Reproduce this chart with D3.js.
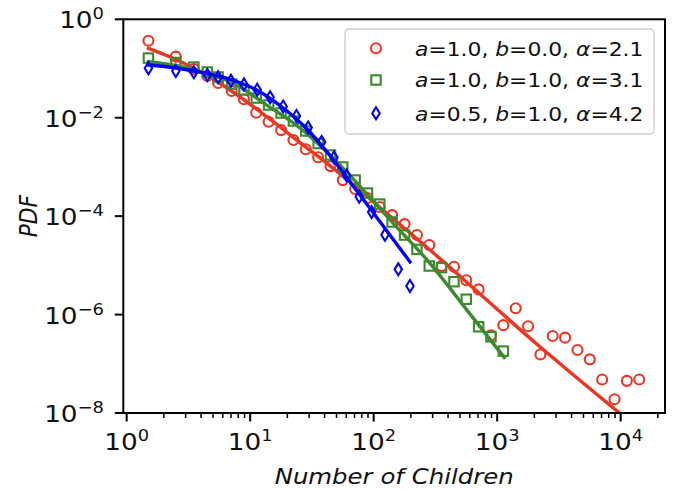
<!DOCTYPE html>
<html><head><meta charset="utf-8">
<script src="https://cdn.jsdelivr.net/npm/d3@7"></script>
<style>body{margin:0;background:#fff}svg{display:block}</style>
</head><body><svg id="c" width="674" height="491"></svg>
<script>
// ---- data ----
const redX = [1.5,2.5,3.5,4.5,5.5,7.08,8.91,11.2,14.1,17.8,22.4,28.2,35.5,44.7,56.2,70.8,89.1,112,141,178,224,282,355,447,562,708,891,1122,1413,1778,2239,2818,3548,4467,5623,7079,8913,11220,14125];
const redY = [0.367,0.174,0.0977,0.0704,0.0507,0.0349,0.0237,0.01264,0.0083,0.0056,0.00352,0.00228,0.00157,0.00104,5.4e-4,3.56e-4,2.33e-4,1.53e-4,1.05e-4,6.9e-5,4.13e-5,2.59e-5,9.7e-6,9.4e-6,5.0e-6,3.25e-6,3.8e-7,6.1e-7,1.34e-6,5.8e-7,1.55e-7,3.66e-7,3.4e-7,1.9e-7,1.23e-7,4.8e-8,1.9e-8,4.5e-8,4.8e-8];
const greenX = [1.5,2.5,3.5,4.5,5.5,7.08,8.91,11.2,14.1,17.8,22.4,28.2,35.5,44.7,56.2,70.8,89.1,112,141,178,224,282,355,447,562,708,891,1122];
const greenY = [0.163,0.1324,0.107,0.0849,0.0672,0.0484,0.0366,0.0251,0.0181,0.01246,0.00857,0.00537,0.00299,0.001746,9.96e-4,5.42e-4,2.95e-4,1.76e-4,7.6e-5,4.13e-5,2.11e-5,9.7e-6,9.0e-6,4.65e-6,2.05e-6,5.65e-7,3.54e-7,1.81e-7];
const blueX = [1.5,2.5,3.5,4.5,5.5,6.99,8.91,11.4,14.5,18.5,23.7,29.5,37.9,47.7,60.4,76.4,96.3,123.4,158.2,196.7];
const blueY = [0.1009,0.089,0.0837,0.0738,0.0662,0.0565,0.0473,0.0371,0.0261,0.0169,0.01083,0.00633,0.00321,0.00155,6.68e-4,2.48e-4,1.21e-4,4.19e-5,8.3e-6,3.8e-6];
// fitted curves
const redFitX = [1.5,2.51,3.92,7.26,13.6,25.3,47.1,82.4,153.6,285.8,2221,9870,14125];
const redFitY = [0.2574,0.1524,0.0869,0.0333,0.01048,0.00313,9.37e-4,2.91e-4,7.69e-5,2.05e-5,2.22e-7,9.8e-9,4.7e-9];
const greenFitX = [1.5,2.51,3.92,7.26,13.6,25.3,47.1,82.4,144.1,285.8,569.5,1139];
const greenFitY = [0.1374,0.115,0.0861,0.0507,0.0181,0.00618,0.001496,3.39e-4,7.14e-5,1.10e-5,1.234e-6,1.35e-7];
const blueFitX = [1.5,2.51,3.92,6.99,11.27,17.86,28.3,44.9,77.5,196.7];
const blueFitY = [0.1178,0.1024,0.0849,0.0598,0.0366,0.01689,0.00618,0.001627,2.68e-4,1.18e-5];
const xMajor = [1,10,100,1000,10000];
const xMajorExp = ["0","1","2","3","4"];
const yMajor = [1,1e-2,1e-4,1e-6,1e-8];
const yMajorExp = ["0","\u22122","\u22124","\u22126","\u22128"];
const legendLabels = [
  [["a",true],["=1.0, ",false],["b",true],["=0.0, ",false],["\u03b1",true],["=2.1",false]],
  [["a",true],["=1.0, ",false],["b",true],["=1.0, ",false],["\u03b1",true],["=3.1",false]],
  [["a",true],["=0.5, ",false],["b",true],["=1.0, ",false],["\u03b1",true],["=4.2",false]]
];
const RED="#ee3524", GREEN="#3b8a2e", BLUE="#0000ff";

// ---- layout ----
const X0=123.3, X1=665, Y0=19.3, Y1=413;
const FONT="DejaVu Sans";
const SX=1.12; // horizontal text stretch seen in the picture
const svg=d3.select("#c");
const x=d3.scaleLog().domain([0.939,22850]).range([X0,X1]);
const y=d3.scaleLog().domain([1e-8,1]).range([Y1,Y0]);

svg.append("defs").append("clipPath").attr("id","clip")
  .append("rect").attr("x",X0).attr("y",Y0).attr("width",X1-X0).attr("height",Y1-Y0);

const plot=svg.append("g").attr("clip-path","url(#clip)");

function markers(g,xs,ys,shape,color){
  const pts=xs.map((v,i)=>[x(v),y(ys[i])]);
  const sel=g.selectAll(null).data(pts).enter();
  drawMarker(sel,shape,color);
}
function drawMarker(sel,shape,color){
  if(shape==="o"){
    sel.append("circle").attr("cx",d=>d[0]).attr("cy",d=>d[1]).attr("r",5)
      .attr("fill","none").attr("stroke",color).attr("stroke-width",2.1);
  } else if(shape==="s"){
    sel.append("rect").attr("x",d=>d[0]-4.7).attr("y",d=>d[1]-4.7).attr("width",9.4).attr("height",9.4)
      .attr("fill","none").attr("stroke",color).attr("stroke-width",2.1);
  } else {
    sel.append("path").attr("d",d=>`M${d[0]},${d[1]-6}L${d[0]+3.7},${d[1]}L${d[0]},${d[1]+6}L${d[0]-3.7},${d[1]}Z`)
      .attr("fill","none").attr("stroke",color).attr("stroke-width",2.1);
  }
}
const line=d3.line().x(d=>x(d[0])).y(d=>y(d[1])).curve(d3.curveMonotoneX);
function fit(xs,ys,color){
  plot.append("path").datum(xs.map((v,i)=>[v,ys[i]])).attr("d",line)
    .attr("fill","none").attr("stroke",color).attr("stroke-width",3.4).attr("stroke-linecap","square");
}
markers(plot,redX,redY,"o",RED); fit(redFitX,redFitY,RED);
markers(plot,greenX,greenY,"s",GREEN); fit(greenFitX,greenFitY,GREEN);
markers(plot,blueX,blueY,"d",BLUE); fit(blueFitX,blueFitY,BLUE);

// ---- axes ----
const ax=svg.append("g");
const minors=[];
for(let e=0;e<=4;e++) for(let k=2;k<=9;k++){const v=k*Math.pow(10,e); if(v<22850) minors.push(v);}
ax.selectAll(null).data(minors).enter().append("line")
  .attr("x1",d=>x(d)).attr("x2",d=>x(d)).attr("y1",Y1).attr("y2",Y1+5)
  .attr("stroke","#000").attr("stroke-width",1.5);
ax.selectAll(null).data(xMajor).enter().append("line")
  .attr("x1",d=>x(d)).attr("x2",d=>x(d)).attr("y1",Y1).attr("y2",Y1+8.5)
  .attr("stroke","#000").attr("stroke-width",2);
ax.selectAll(null).data(yMajor).enter().append("line")
  .attr("x1",X0-8.5).attr("x2",X0).attr("y1",d=>y(d)).attr("y2",d=>y(d))
  .attr("stroke","#000").attr("stroke-width",2);
ax.append("rect").attr("x",X0).attr("y",Y0).attr("width",X1-X0).attr("height",Y1-Y0)
  .attr("fill","none").attr("stroke","#000").attr("stroke-width",2);

function stretched(px,py,anchor){
  return svg.append("g").attr("transform",`translate(${px},${py}) scale(${SX},1)`)
    .append("text").attr("x",0).attr("y",0).attr("text-anchor",anchor)
    .attr("font-family",FONT).attr("fill","#111");
}
xMajor.forEach((v,i)=>{
  const t=stretched(x(v),450,"middle").attr("font-size",23.5);
  t.append("tspan").text("10");
  t.append("tspan").attr("dy",-9).attr("font-size",16).text(xMajorExp[i]);
});
yMajor.forEach((v,i)=>{
  const t=stretched(104,y(v)+9,"end").attr("font-size",23.5);
  t.append("tspan").text("10");
  t.append("tspan").attr("dy",-9).attr("font-size",16).text(yMajorExp[i]);
});
stretched((X0+X1)/2,484,"middle").attr("font-size",21.8).attr("font-style","italic").text("Number of Children");
svg.append("g").attr("transform",`translate(37,${(Y0+Y1)/2}) rotate(-90) scale(1,${SX})`)
  .append("text").attr("text-anchor","middle").attr("font-family",FONT).attr("font-size",21.8)
  .attr("font-style","italic").attr("fill","#111").text("PDF");

// ---- legend ----
const lg=svg.append("g");
lg.append("rect").attr("x",345).attr("y",29).attr("width",309).attr("height",105).attr("rx",4)
  .attr("fill","#fff").attr("fill-opacity",0.85).attr("stroke","#cccccc").attr("stroke-width",1.3);
const shapes=["o","s","d"], cols=[RED,GREEN,BLUE], ly=[48.3,80,113.3];
legendLabels.forEach((parts,i)=>{
  drawMarker(lg.selectAll(null).data([[376,ly[i]]]).enter(),shapes[i],cols[i]);
  const t=stretched(415,ly[i]+7.2,"start").attr("font-size",19.5);
  parts.forEach(p=>t.append("tspan").attr("font-style",p[1]?"italic":"normal").text(p[0]));
});
</script></body></html>
